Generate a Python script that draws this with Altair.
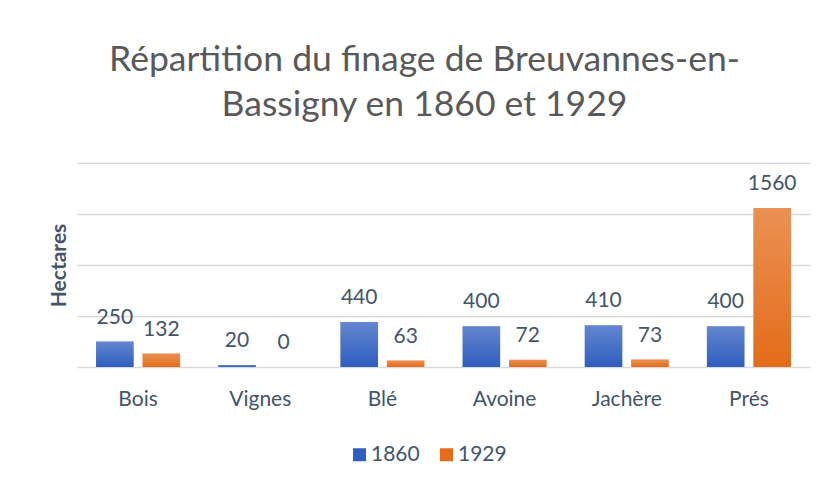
import altair as alt
import pandas as pd

categories = ["Bois", "Vignes", "Blé", "Avoine", "Jachère", "Prés"]
years = ["1860", "1929"]
v1860 = [250, 20, 440, 400, 410, 400]
v1929 = [132, 0, 63, 72, 73, 1560]

rows = []
for c, a, b in zip(categories, v1860, v1929):
    rows.append({"cat": c, "year": "1860", "val": a})
    rows.append({"cat": c, "year": "1929", "val": b})
df = pd.DataFrame(rows)

FONT = "Lato"
LABEL = "#44546A"

x = alt.X("cat:N", sort=categories,
          scale=alt.Scale(paddingInner=0, paddingOuter=0),
          axis=alt.Axis(title=None, labelFontSize=21, labelColor=LABEL, labelFont=FONT,
                        domain=False, ticks=False, labelPadding=21, labelAngle=0))
xo = alt.XOffset("year:N", sort=years, scale=alt.Scale(paddingInner=0.19, paddingOuter=0.41))
y = alt.Y("val:Q", scale=alt.Scale(domain=[0, 2000], nice=False),
          axis=alt.Axis(values=[0, 500, 1000, 1500, 2000], labels=False, ticks=False,
                        domain=False, grid=True, gridColor="#D9D9D9", gridWidth=1.3,
                        title="Hectares", titleFontSize=21, titleFont=FONT,
                        titleFontWeight="bold", titleColor=LABEL, titlePadding=8))

base = alt.Chart(df)

bars = base.mark_bar().encode(
    x=x, xOffset=xo, y=y,
    color=alt.Color("year:N", sort=years,
                    scale=alt.Scale(domain=years, range=["#2F5EBF", "#E46C1A"]),
                    legend=alt.Legend(title=None, orient="none", direction="horizontal",
                                      legendX=272, legendY=281, symbolType="square",
                                      symbolSize=169, labelFontSize=21, labelFont=FONT,
                                      labelColor=LABEL, labelOffset=1, columnPadding=16,
                                      padding=0, symbolStrokeWidth=0)),
)

shine = alt.Gradient(
    gradient="linear",
    stops=[alt.GradientStop(color="rgba(255,255,255,0.25)", offset=0),
           alt.GradientStop(color="rgba(255,255,255,0)", offset=1)],
    x1=0, x2=0, y1=0, y2=1,
)
overlay = base.mark_bar(color=shine).encode(x=x, xOffset=xo, y=y)

labels = base.mark_text(dy=-18, baseline="alphabetic", fontSize=21, font=FONT, color=LABEL).encode(
    x=x, xOffset=xo, y=y, text=alt.Text("val:Q")
)

chart = alt.layer(bars, overlay, labels).properties(
    width=733, height=204,
    title=alt.TitleParams(["Répartition du finage de Breuvannes-en-", "Bassigny en 1860 et 1929"],
                          fontSize=35.5, font=FONT, color="#595959", fontWeight="normal",
                          lineHeight=45, anchor="middle", dx=-19, offset=40),
    autosize=alt.AutoSizeParams(type="none"),
    padding={"left": 69, "top": 155, "right": 11, "bottom": 112},
).configure_view(stroke=None)

chart.save("out.html", embed_options={"renderer": "svg", "actions": False})
